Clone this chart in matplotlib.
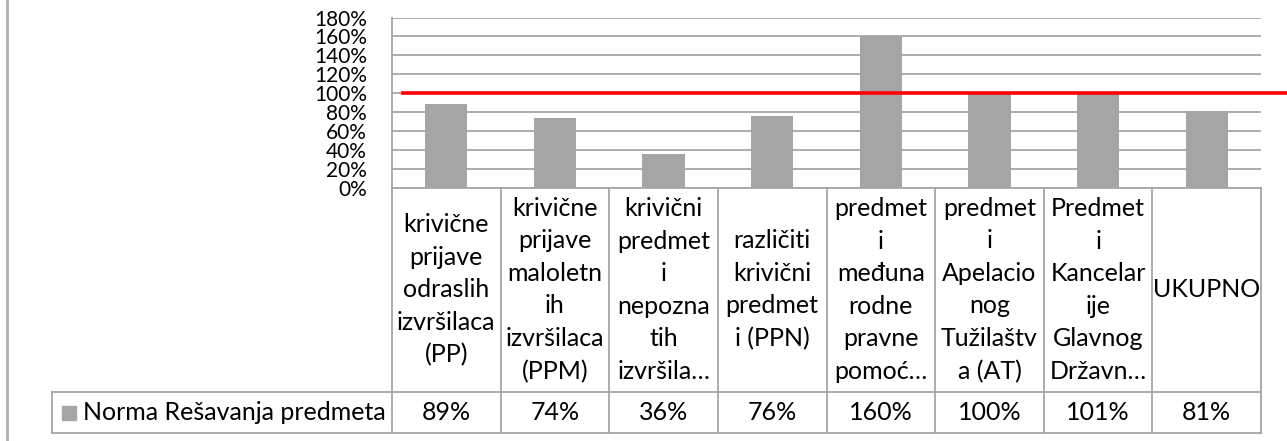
import matplotlib
matplotlib.use("Agg")
import matplotlib.pyplot as plt
from matplotlib.lines import Line2D
from matplotlib.ticker import PercentFormatter, MultipleLocator

plt.rcParams['font.family'] = ['Lato', 'DejaVu Sans']

categories = [
    "krivične\nprijave\nodraslih\nizvršilaca\n(PP)",
    "krivične\nprijave\nmaloletn\nih\nizvršilaca\n(PPM)",
    "krivični\npredmet\ni\nnepozna\ntih\nizvršila…",
    "različiti\nkrivični\npredmet\ni (PPN)",
    "predmet\ni\nmeđuna\nrodne\npravne\npomoć…",
    "predmet\ni\nApelacio\nnog\nTužilaštv\na (AT)",
    "Predmet\ni\nKancelar\nije\nGlavnog\nDržavn…",
    "UKUPNO",
]
values = [0.89, 0.74, 0.36, 0.76, 1.60, 1.00, 1.01, 0.81]
value_labels = ["89%", "74%", "36%", "76%", "160%", "100%", "101%", "81%"]
series_name = "Norma Rešavanja predmeta"
norm_level = 1.0

W, H = 1287, 441
bar_color = "#A5A5A5"
line_color = "#A6A6A6"
fs = 18

fig = plt.figure(figsize=(W / 100, H / 100), dpi=100)

# chart area (pixel box 392..1261 x, 17.6..187.7 y)
x0, x1 = 392, 1261
ytop, ybot = 17.6, 187.7
ax = fig.add_axes([x0 / W, 1 - ybot / H, (x1 - x0) / W, (ybot - ytop) / H])
n = len(values)
ax.bar(range(n), values, width=0.39, color=bar_color, zorder=2)
ax.set_xlim(-0.5, n - 0.5)
ax.set_ylim(0, 1.8)
ax.yaxis.set_major_locator(MultipleLocator(0.2))
ax.yaxis.set_major_formatter(PercentFormatter(1.0, decimals=0))
ax.grid(axis='y', color=line_color, lw=1.3, zorder=0)
ax.set_xticks([])
ax.tick_params(axis='y', length=0, pad=18, labelsize=15)
for s in ['top', 'right', 'bottom']:
    ax.spines[s].set_visible(False)
ax.spines['left'].set_color(line_color)
ax.spines['left'].set_linewidth(1.3)

# red norm line
ax.plot([-0.4, 7.75], [norm_level, norm_level], color="#FF0000", lw=2.6,
        clip_on=False, zorder=3)

# data table below
tb_top, tb_bot = ybot, 433
tb_left = 52
cw = (x1 - x0) / n
xl = -0.5 - (x0 - tb_left) / cw
tax = fig.add_axes([tb_left / W, 1 - tb_bot / H, (x1 - tb_left) / W, (tb_bot - tb_top) / H])
tax.set_xlim(xl, n - 0.5)
tax.set_ylim(0, 1)
tax.axis('off')
row = (tb_bot - 392) / (tb_bot - tb_top)

kw = dict(color=line_color, lw=1.3, clip_on=False)
tax.plot([-0.5, n - 0.5], [1, 1], **kw)
tax.plot([xl, n - 0.5], [row, row], **kw)
tax.plot([xl, n - 0.5], [0, 0], **kw)
tax.plot([xl, xl], [0, row], **kw)
for i in range(n + 1):
    tax.plot([i - 0.5, i - 0.5], [0, 1], **kw)

for i in range(n):
    tax.text(i, (1 + row) / 2, categories[i], ha='center', va='center',
             fontsize=fs, linespacing=1.5)
    tax.text(i, row / 2, value_labels[i], ha='center', va='center', fontsize=fs)

tax.plot([xl + 0.161], [row / 2], marker='s', ms=10.5, color=bar_color,
         linestyle='none', clip_on=False)
tax.text(xl + 0.285, row / 2, series_name, ha='left', va='center', fontsize=fs)

# outer frame line at left
fig.add_artist(Line2D([7 / W, 7 / W], [0, 1], color="#B0B0B0", lw=2))

fig.savefig("out.png", dpi=100)
